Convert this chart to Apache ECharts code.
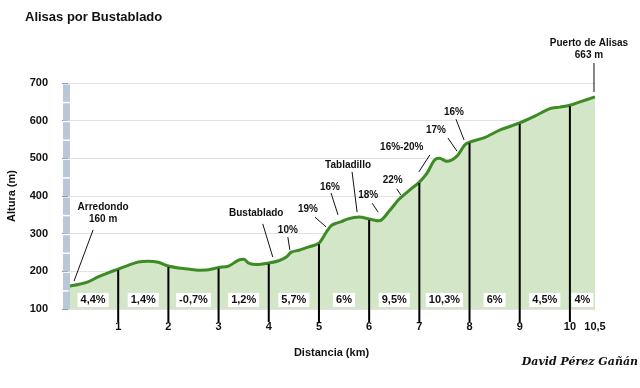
<!DOCTYPE html>
<html><head><meta charset="utf-8">
<script src="https://cdn.jsdelivr.net/npm/echarts@6/dist/echarts.min.js"></script>
<style>html,body{margin:0;padding:0;background:#fff}#c{width:640px;height:388px}</style>
</head><body><div id="c"></div>
<script>
// ---- data ----
const profileKm  = [0, 0.2, 0.4, 0.6, 0.8, 1.0, 1.2, 1.4, 1.6, 1.8, 2.0, 2.2, 2.4, 2.6, 2.8, 3.0, 3.2, 3.4, 3.5, 3.6, 3.75, 4.0, 4.2, 4.35, 4.45, 4.6, 4.8, 5.0, 5.15, 5.25, 5.35, 5.45, 5.55, 5.8, 6.0, 6.2, 6.4, 6.6, 6.8, 7.0, 7.15, 7.3, 7.4, 7.55, 7.75, 7.9, 8.0, 8.3, 8.6, 9.0, 9.3, 9.6, 9.8, 10.0, 10.2, 10.5];
const profileAlt = [160, 165, 172, 185, 196, 206, 216, 225, 227, 224, 214, 209, 206, 203, 204, 210, 214, 230, 232, 222, 218, 222, 228, 238, 251, 256, 265, 275, 305, 322, 328, 332, 338, 344, 339, 334, 360, 392, 415, 437, 460, 495, 500, 492, 506, 535, 543, 555, 575, 594, 612, 632, 636, 641, 650, 663];
const kmMarks = [1, 2, 3, 4, 5, 6, 7, 8, 9, 10];
const xTickValues = [1, 2, 3, 4, 5, 6, 7, 8, 9, 10, 10.5];
const yTicks = [100, 200, 300, 400, 500, 600, 700];
const gradeKm   = [0.5, 1.5, 2.5, 3.5, 4.5, 5.5, 6.5, 7.5, 8.5, 9.5, 10.25];
const gradeText = ['4,4%', '1,4%', '-0,7%', '1,2%', '5,7%', '6%', '9,5%', '10,3%', '6%', '4,5%', '4%'];
const annText = ['Arredondo\n160 m', 'Bustablado', '10%', '19%', '16%', 'Tabladillo', '18%', '22%', '16%-20%', '17%', '16%', 'Puerto de Alisas\n663 m'];
// label anchor [km, alt] and leader [km1, alt1, km2, alt2]
const annLabelKm  = [0.70, 3.75, 4.38, 4.78, 5.22, 5.58, 5.98, 6.47, 6.65, 7.33, 7.69, 10.38];
const annLabelAlt = [355, 355, 310, 365, 424, 482, 403, 442, 530, 575, 623, 790];
const annLeader = [
  [0.50, 310, 0.12, 174],
  [3.88, 326, 4.08, 238],
  [4.38, 291, 4.42, 257],
  [4.92, 344, 5.14, 318],
  [5.24, 408, 5.38, 350],
  [5.66, 464, 5.76, 357],
  [6.06, 381, 6.18, 357],
  [6.55, 419, 6.63, 403],
  [7.21, 509, 6.99, 464],
  [7.57, 554, 7.75, 519],
  [7.73, 604, 7.89, 549],
  [10.48, 753, 10.48, 676]
];
const scaleSegs = [100, 150, 200, 250, 300, 350, 400, 450, 500, 550, 600, 650];

// ---- chart ----
const FONT = '"Liberation Sans", Arial, sans-serif';
const chart = echarts.init(document.getElementById('c'), null, {renderer: 'canvas'});
const profile = profileKm.map((k, i) => [k, profileAlt[i]]);
const altAt = k => profileAlt[profileKm.indexOf(k)];

chart.setOption({
  animation: false,
  title: {text: 'Alisas por Bustablado', left: 20, top: 6,
    textStyle: {fontFamily: FONT, fontSize: 13, fontWeight: 'bold', color: '#111'}},
  grid: {left: 68, right: 45, top: 83, bottom: 79, outerBoundsMode: 'none', containLabel: false},
  xAxis: {type: 'value', min: 0, max: 10.5,
    name: 'Distancia (km)', nameLocation: 'middle', nameGap: 38,
    nameTextStyle: {fontFamily: FONT, fontSize: 11, fontWeight: 'bold', color: '#111'},
    axisLine: {show: false}, axisTick: {show: false}, splitLine: {show: false},
    axisLabel: {customValues: xTickValues, margin: 12, fontFamily: FONT, fontSize: 11, fontWeight: 'bold', color: '#111',
      formatter: v => String(v).replace('.', ',')}},
  yAxis: {type: 'value', min: 100, max: 700, interval: 100, offset: 8,
    name: 'Altura (m)', nameLocation: 'middle', nameGap: 43, nameRotate: 90,
    nameTextStyle: {fontFamily: FONT, fontSize: 11, fontWeight: 'bold', color: '#111'},
    axisLine: {show: false},
    axisTick: {show: true, length: 6, lineStyle: {color: '#999'}},
    axisLabel: {margin: 12, fontFamily: FONT, fontSize: 11, fontWeight: 'bold', color: '#111'},
    splitLine: {show: true, lineStyle: {color: '#e2e2e2', width: 1}}},
  series: [
    {type: 'line', data: profile, smooth: 0.3, symbol: 'none', z: 3,
      lineStyle: {color: '#3d8b25', width: 3},
      areaStyle: {color: '#d3e7c8', origin: 'start', opacity: 1}},
    {type: 'custom', z: 4, data: kmMarks.map(k => [k, altAt(k)]),
      renderItem: (p, api) => {
        const a = api.coord([api.value(0), api.value(1)]);
        const b = api.coord([api.value(0), 100]);
        return {type: 'line', shape: {x1: a[0], y1: a[1] + 1, x2: b[0], y2: b[1] + 13},
          style: {stroke: '#000', lineWidth: 2}};
      }},
    {type: 'custom', z: 5, data: gradeKm.map((k, i) => [k, 124, i]),
      renderItem: (p, api) => {
        const a = api.coord([api.value(0), api.value(1)]);
        return {type: 'text', x: a[0], y: a[1],
          style: {text: gradeText[api.value(2)], align: 'center', verticalAlign: 'middle',
            font: 'bold 11px ' + FONT, fill: '#111', backgroundColor: '#fff', padding: [2, 3, 1, 3]}};
      }},
    {type: 'custom', z: 6, data: annText.map((t, i) => [annLabelKm[i], annLabelAlt[i], i]),
      renderItem: (p, api) => {
        const i = api.value(2);
        const a = api.coord([api.value(0), api.value(1)]);
        const L = annLeader[i];
        const s = api.coord([L[0], L[1]]), e = api.coord([L[2], L[3]]);
        const children = [
          {type: 'line', shape: {x1: s[0], y1: s[1], x2: e[0], y2: e[1]}, style: {stroke: '#111', lineWidth: 1}},
          {type: 'text', x: a[0], y: a[1], style: {text: annText[i], align: 'center', verticalAlign: 'middle',
            font: 'bold 10px ' + FONT, fill: '#111', lineHeight: 12}}
        ];
        return {type: 'group', children};
      }},
    {type: 'custom', z: 4, data: scaleSegs.map(v => [0, v]),
      renderItem: (p, api) => {
        const v = api.value(1);
        const t = api.coord([0, v + 50]), b = api.coord([0, v]);
        return {type: 'rect', shape: {x: t[0] - 5, y: t[1] + 1.5, width: 7, height: b[1] - t[1] - 1.5},
          style: {fill: '#b9c8d8'}};
      }}
  ],
  graphic: [{type: 'text', right: 2, top: 357,
    style: {text: 'David Pérez Gañán', font: 'italic bold 11px "DejaVu Serif", serif', fill: '#111'}}]
});
</script></body></html>
